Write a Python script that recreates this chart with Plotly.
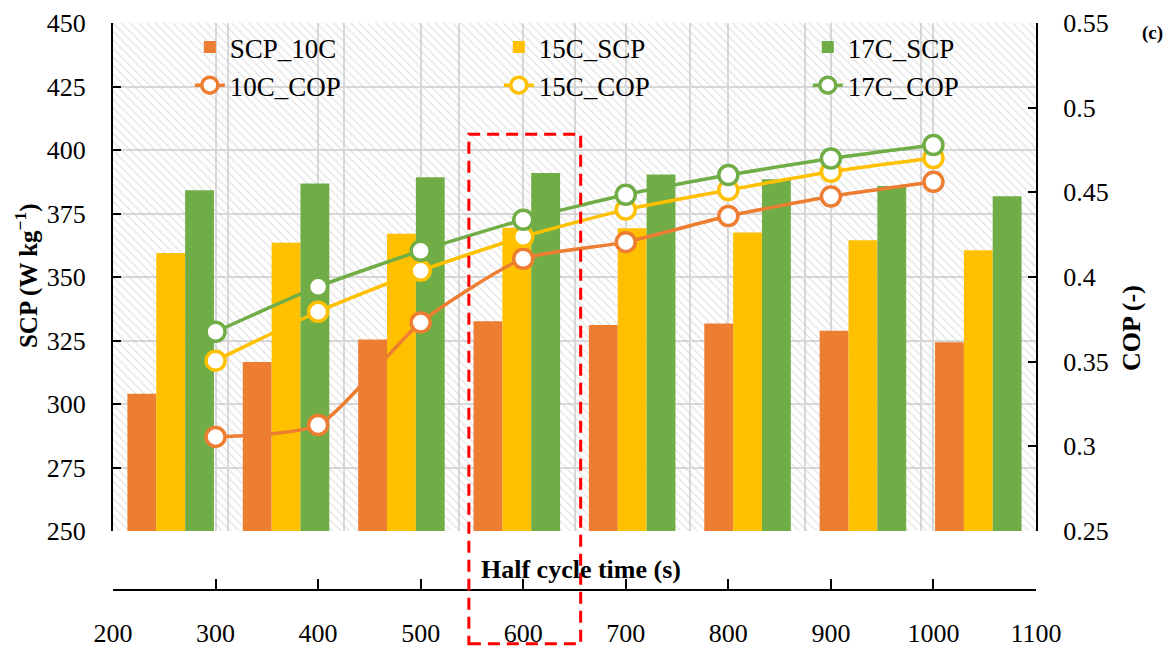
import plotly.graph_objects as go

# ---- data ----
categories = ["300", "400", "500", "600", "700", "800", "900", "1000"]
half_cycle = [300, 400, 500, 600, 700, 800, 900, 1000]
scp_10c = [304.0, 316.5, 325.4, 332.6, 331.1, 331.7, 328.8, 324.3]
scp_15c = [359.5, 363.5, 367.0, 369.4, 369.2, 367.5, 364.5, 360.5]
scp_17c = [384.2, 386.8, 389.3, 390.9, 390.4, 388.5, 385.8, 381.8]
cop_10c = [0.3056, 0.3126, 0.3732, 0.4108, 0.4206, 0.4360, 0.4475, 0.4562]
cop_15c = [0.3506, 0.3795, 0.4037, 0.4238, 0.4398, 0.4514, 0.4622, 0.4703]
cop_17c = [0.3677, 0.3943, 0.4155, 0.4338, 0.4486, 0.4602, 0.4700, 0.4780]

scp_range = [250, 450]
cop_range = [0.25, 0.55]
time_range = [200, 1100]

ORANGE = "#ED7D31"
YELLOW = "#FFC000"
GREEN = "#70AD47"
GRID = "#D9D9D9"
FONT = "Liberation Serif"

fig = go.Figure()

# hatched plot-area background
fig.add_trace(go.Bar(
    x=categories, y=[scp_range[1] - scp_range[0]] * len(categories), base=scp_range[0],
    width=1.0, offset=-0.5, showlegend=False, hoverinfo="skip",
    marker=dict(color="rgba(0,0,0,0)", line=dict(width=0),
                pattern=dict(shape="\\", fgcolor="#C8C8C8", bgcolor="rgba(0,0,0,0)",
                             size=6, solidity=0.22)),
    xaxis="x", yaxis="y"))

for name, vals, col, off in [("SCP_10C", scp_10c, ORANGE, -0.375),
                             ("15C_SCP", scp_15c, YELLOW, -0.125),
                             ("17C_SCP", scp_17c, GREEN, 0.125)]:
    fig.add_trace(go.Bar(
        x=categories, y=[v - scp_range[0] for v in vals], base=scp_range[0],
        width=0.25, offset=off, name=name,
        marker=dict(color=col, line=dict(width=0)),
        xaxis="x", yaxis="y"))

for name, vals, col in [("10C_COP", cop_10c, ORANGE),
                        ("15C_COP", cop_15c, YELLOW),
                        ("17C_COP", cop_17c, GREEN)]:
    fig.add_trace(go.Scatter(
        x=half_cycle, y=vals, name=name, mode="lines+markers",
        line=dict(color=col, width=3.5, shape="spline", smoothing=0.6),
        marker=dict(symbol="circle", size=19, color="white",
                    line=dict(color=col, width=3.5)),
        xaxis="x2", yaxis="y2"))

ydom0 = 0.104

fig.update_layout(
    width=1173, height=646,
    margin=dict(l=105, r=145, t=15, b=64, autoexpand=False),
    paper_bgcolor="white", plot_bgcolor="white",
    barmode="overlay",
    font=dict(family=FONT, size=26, color="black"),
    showlegend=True,
    legend=dict(orientation="h", xref="container", x=0.155, xanchor="left",
                y=1.0, yanchor="top",
                bgcolor="rgba(0,0,0,0)", font=dict(size=27, family=FONT),
                entrywidth=264, entrywidthmode="pixels", traceorder="normal",
                tracegroupgap=0, itemsizing="trace"),
    xaxis=dict(type="category", range=[-0.5, len(categories) - 0.5],
               showticklabels=False, ticks="", tickson="boundaries",
               showgrid=True, gridcolor=GRID, gridwidth=2, automargin=False,
               showline=False, zeroline=False, domain=[0, 1]),
    yaxis=dict(range=scp_range, dtick=25, tick0=250, domain=[ydom0, 1],
               showgrid=True, gridcolor=GRID, gridwidth=2, automargin=False,
               showline=True, linecolor="black", linewidth=2,
               ticks="inside", ticklen=8, tickwidth=2, tickcolor="black",
               ticklabelstandoff=20, zeroline=False,
               tickfont=dict(size=26, family=FONT)),
    yaxis2=dict(range=cop_range, dtick=0.05, tick0=0.25, overlaying="y", side="right",
                showgrid=False, showline=True, linecolor="black", linewidth=2,
                ticks="inside", ticklen=8, tickwidth=2, tickcolor="black",
                ticklabelstandoff=20, zeroline=False, automargin=False,
                tickfont=dict(size=26, family=FONT)),
    xaxis2=dict(range=time_range, dtick=100, tick0=200, overlaying="x",
                anchor="free", position=0, side="bottom",
                showgrid=True, gridcolor=GRID, gridwidth=2, automargin=False,
                showline=True, linecolor="black", linewidth=2,
                ticks="inside", ticklen=10, tickwidth=2, tickcolor="black",
                ticklabelstandoff=20, zeroline=False,
                tickfont=dict(size=26, family=FONT)),
)

# dashed highlight box around the 600 s case
fig.add_shape(type="rect", xref="x2", yref="paper",
              x0=547, x1=656, y0=-0.095, y1=0.804,
              line=dict(color="#FF0000", width=3, dash="12px,7px"),
              fillcolor="rgba(0,0,0,0)", layer="above")

fig.add_annotation(text="<b>SCP (W kg<sup>−1</sup>)</b>", xref="paper", yref="paper",
                   x=-0.093, y=0.554, textangle=-90, showarrow=False,
                   font=dict(size=25, family=FONT), xanchor="center", yanchor="middle")
fig.add_annotation(text="<b>COP (-)</b>", xref="paper", yref="paper",
                   x=1.103, y=0.462, textangle=-90, showarrow=False,
                   font=dict(size=26, family=FONT), xanchor="center", yanchor="middle")
fig.add_annotation(text="<b>Half cycle time (s)</b>", xref="paper", yref="paper",
                   x=0.507, y=0.037, showarrow=False,
                   font=dict(size=26, family=FONT), xanchor="center", yanchor="middle")
fig.add_annotation(text="<b>(c)</b>", xref="paper", yref="paper",
                   x=1.126, y=0.982, showarrow=False,
                   font=dict(size=19, family=FONT), xanchor="center", yanchor="middle")

fig.write_html("out.html")
